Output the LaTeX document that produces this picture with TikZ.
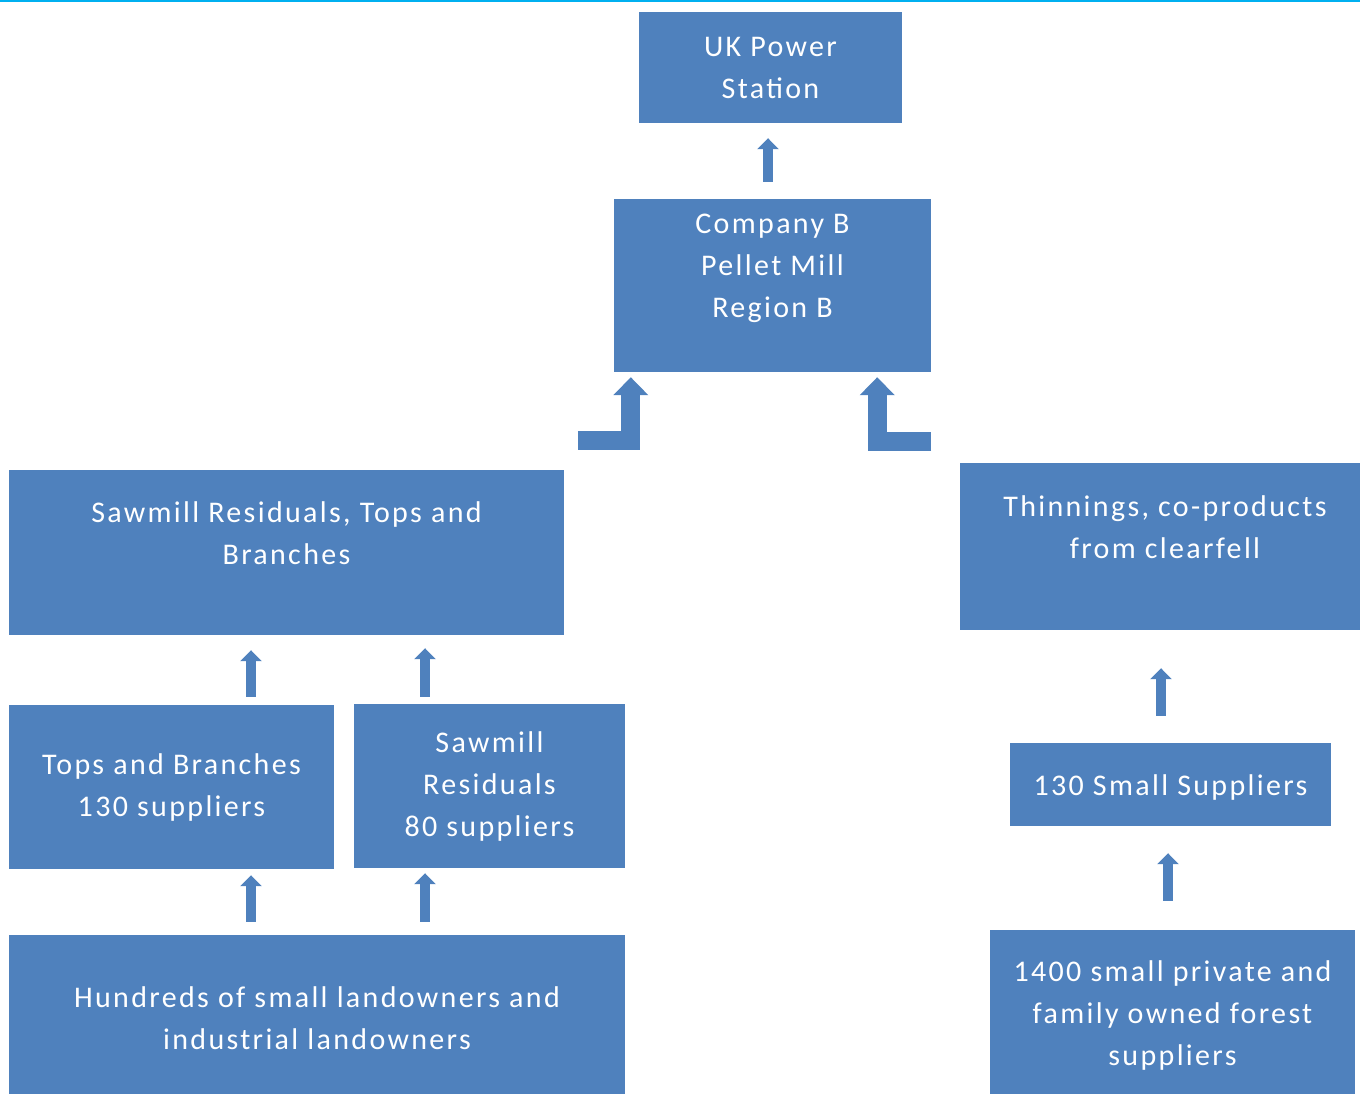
\documentclass[tikz,border=0pt]{standalone}
\usepackage{fontspec}
\setmainfont[LetterSpace=7.8]{Carlito}
\usetikzlibrary{arrows.meta}
\definecolor{boxblue}{HTML}{4F81BD}
\definecolor{topline}{HTML}{00B0F0}
\begin{document}
\begin{tikzpicture}[x=1pt,y=-1pt,
	box/.style={fill=boxblue, inner sep=0pt, text=white, align=center,
		font=\fontsize{30}{42}\selectfont},
	lbl/.style={text=white, align=center, font=\fontsize{30}{42}\selectfont},
	upar/.style={draw=boxblue, line width=10pt, -{Triangle[width=21pt,length=11pt]}},
	bentar/.style={draw=boxblue, line width=19pt, line join=miter,
		-{Triangle[width=34pt,length=18pt]}}]
		%%%%% START %%%%%
		\useasboundingbox (0,0) rectangle (1360,1093);
		\draw[topline, line width=2.5pt] (0,1) -- (1360,1);
		
		\node[box, minimum width=263pt, minimum height=111pt] (uk) at (770.5,67.5) {UK Power\\Station};
		\node[box, minimum width=317pt, minimum height=173pt,
			label={[lbl, yshift=17pt]center:Company B\\Pellet Mill\\Region B}] (mill) at (772.5,285.5) {};
		
		\node[box, minimum width=555pt, minimum height=165pt,
			label={[lbl, yshift=19.5pt]center:Sawmill Residuals, Tops and\\Branches}] (srtb) at (286.5,552.5) {};
		\node[box, minimum width=410pt, minimum height=167pt,
			label={[lbl, yshift=19.5pt]center:Thinnings, co-products\\from clearfell}] (thin) at (1165,546.5) {};
		
		\node[box, minimum width=325pt, minimum height=164pt] (tops) at (171.5,787) {Tops and Branches\\130 suppliers};
		\node[box, minimum width=271pt, minimum height=164pt] (sawres) at (489.5,786) {Sawmill\\Residuals\\80 suppliers};
		\node[box, minimum width=321pt, minimum height=83pt,
			label={[lbl, yshift=-3pt]center:130 Small Suppliers}] (small) at (1170.5,784.5) {};
		
		\node[box, minimum width=616pt, minimum height=166pt] (land) at (317,1018) {Hundreds of small landowners and\\industrial landowners};
		\node[box, minimum width=365pt, minimum height=170pt] (forest) at (1172.5,1015) {1400 small private and\\family owned forest\\suppliers};
		
		% straight arrows
		\draw[upar, shorten <=17pt, shorten >=15pt] ([xshift=-4.5pt]mill.north) -- ([xshift=-2.5pt]uk.south);
		\draw[upar, shorten <=8pt, shorten >=15pt] ([xshift=79.5pt]tops.north) -- ([xshift=-35.5pt]srtb.south);
		\draw[upar, shorten <=7pt, shorten >=13pt] ([xshift=-64.5pt]sawres.north) -- ([xshift=138.5pt]srtb.south);
		\draw[upar, shorten <=13pt, shorten >=6pt] ([xshift=-66pt]land.north) -- ([xshift=79.5pt]tops.south);
		\draw[upar, shorten <=13pt, shorten >=5pt] ([xshift=108pt]land.north) -- ([xshift=-64.5pt]sawres.south);
		\draw[upar, shorten <=27pt, shorten >=38pt] ([xshift=-9.5pt]small.north) -- ([xshift=-4pt]thin.south);
		\draw[upar, shorten <=29pt, shorten >=27pt] ([xshift=-4.5pt]forest.north) -- ([xshift=-2.5pt]small.south);
		
		% bent arrows into the mill
		\draw[bentar] ([xshift=-36pt,yshift=-68.5pt]mill.south west) -| ([xshift=17pt,yshift=-5pt]mill.south west);
		\draw[bentar] ([yshift=-69.5pt]mill.south east) -| ([xshift=-54pt,yshift=-5pt]mill.south east);
		%%%%% END %%%%%
\end{tikzpicture}
\end{document}
